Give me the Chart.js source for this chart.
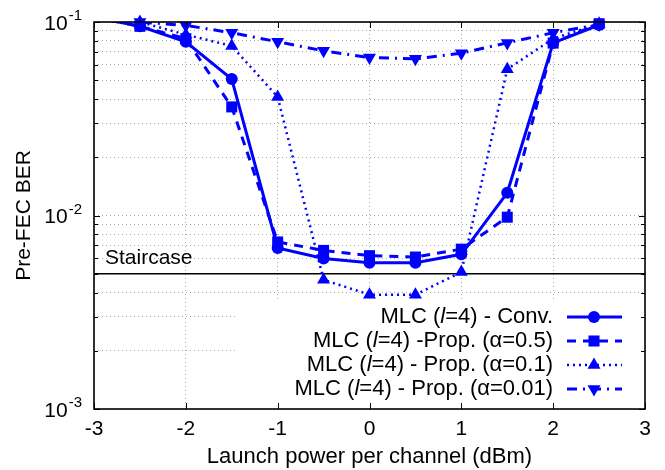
<!DOCTYPE html>
<html>
<head>
<meta charset="utf-8">
<script src="https://cdn.jsdelivr.net/npm/chart.js@4.4.1/dist/chart.umd.min.js"></script>
<style>
  html, body { margin: 0; padding: 0; background: #fff; }
</style>
</head>
<body>
<canvas id="mycanvas" width="665" height="470"></canvas>
<script>
// launch power per channel (dBm)
var launchPower = [-3, -2.5, -2, -1.5, -1, -0.5, 0, 0.5, 1, 1.5, 2, 2.5];

// pre-FEC BER per series
var berConv   = [0.106, 0.095, 0.079, 0.0507, 0.0068, 0.0060, 0.0057, 0.0057, 0.0063, 0.0131, 0.078, 0.0965];
var berProp05 = [0.106, 0.095, 0.082, 0.0364, 0.0073, 0.0066, 0.0062, 0.0061, 0.0067, 0.0098, 0.0778, 0.098];
var berProp01 = [0.105, 0.100, 0.086, 0.0752, 0.0410, 0.00465, 0.0039, 0.0039, 0.0051, 0.057, 0.082, 0.098];
var berProp001 = [0.103, 0.100, 0.096, 0.088, 0.079, 0.071, 0.0655, 0.0645, 0.069, 0.078, 0.088, 0.097];

var staircaseBer = 0.005;

var legendLabels = ['MLC (l=4) - Conv.', 'MLC (l=4) -Prop. (\u03b1=0.5)', 'MLC (l=4) - Prop. (\u03b1=0.1)', 'MLC (l=4) - Prop. (\u03b1=0.01)'];

var xTicks = [-3, -2, -1, 0, 1, 2, 3];
var yLabelTicks = [0.001, 0.01, 0.1];
var yGridTicks = [0.001, 0.002, 0.003, 0.004, 0.005, 0.006, 0.007, 0.008, 0.009,
                  0.01, 0.02, 0.03, 0.04, 0.05, 0.06, 0.07, 0.08, 0.09, 0.1];

var yMin = 0.001, yMax = 0.1;
var blue = '#0000ff';
var FONT = "'Liberation Sans', Arial, sans-serif";

Chart.defaults.font.family = FONT;
Chart.defaults.color = '#000';

function toXY(vals)
{
    var out = [];
    for (var i = 0; i < launchPower.length; i++) {
        out.push({ x: launchPower[i], y: vals[i] });
    }
    return out;
}

// series styles: line dash, width, marker
var seriesStyles = [
    { data: berConv,    dash: [],            width: 3,   marker: 'circle',   rot: 0,   r: 6 },
    { data: berProp05,  dash: [9, 7],        width: 3,   marker: 'rect',     rot: 0,   r: 7.8 },
    { data: berProp01,  dash: [2, 4],        width: 2.5, marker: 'triangle', rot: 0,   r: 7.5 },
    { data: berProp001, dash: [10, 6, 2, 6], width: 3,   marker: 'triangle', rot: 180, r: 7.5 }
];

var datasets = [];
seriesStyles.forEach(function (s) {
    // line part, clipped to the plot box
    datasets.push({
        data: toXY(s.data),
        borderColor: blue,
        borderWidth: s.width,
        borderDash: s.dash,
        borderCapStyle: 'butt',
        pointRadius: 0,
        fill: false,
        tension: 0,
        clip: 0
    });
});
seriesStyles.forEach(function (s) {
    // markers, not clipped (like gnuplot)
    datasets.push({
        data: toXY(s.data),
        showLine: false,
        pointStyle: s.marker,
        pointRotation: s.rot,
        pointRadius: function (c) { return (c.raw && c.raw.y > yMax) ? 0 : s.r; },
        pointBackgroundColor: blue,
        pointBorderWidth: 0,
        clip: false
    });
});
datasets.push({
    data: [{ x: -3, y: staircaseBer }, { x: 3, y: staircaseBer }],
    borderColor: '#000',
    borderWidth: 1.5,
    pointRadius: 0,
    fill: false,
    clip: 0
});

function drawMarker(ctx, style, rot, r, x, y)
{
    ctx.save();
    ctx.fillStyle = blue;
    ctx.beginPath();
    if (style === 'circle') {
        ctx.arc(x, y, r, 0, Math.PI * 2);
    } else if (style === 'rect') {
        var h = r * Math.SQRT1_2;
        ctx.rect(x - h, y - h, 2 * h, 2 * h);
    } else {
        var a = rot * Math.PI / 180;
        for (var k = 0; k < 3; k++) {
            var px = x + Math.sin(a) * r, py = y - Math.cos(a) * r;
            if (k === 0) ctx.moveTo(px, py); else ctx.lineTo(px, py);
            a += 2 * Math.PI / 3;
        }
        ctx.closePath();
    }
    ctx.fill();
    ctx.restore();
}

function drawLegendText(ctx, label, right, y)
{
    var cut = label.indexOf('(l') + 1;
    var parts = [
        { t: label.substring(0, cut), f: '22px ' + FONT },
        { t: 'l', f: 'italic 22px ' + FONT },
        { t: label.substring(cut + 1), f: '22px ' + FONT }
    ];
    var total = 0;
    parts.forEach(function (p) { ctx.font = p.f; p.w = ctx.measureText(p.t).width; total += p.w; });
    var x = right - total;
    ctx.textAlign = 'left';
    ctx.textBaseline = 'middle';
    parts.forEach(function (p) { ctx.font = p.f; ctx.fillText(p.t, x, y); x += p.w; });
}

var decor = {
    id: 'decor',
    beforeDatasetsDraw: function (chart)
    {
        var a = chart.chartArea, ctx = chart.ctx;
        ctx.save();
        ctx.fillStyle = '#fff';
        ctx.fillRect(238, 300, a.right - 238, a.bottom - 300);
        ctx.restore();
    },
    afterDatasetsDraw: function (chart)
    {
        var a = chart.chartArea, ctx = chart.ctx;
        var xs = chart.scales.x, ys = chart.scales.y;
        ctx.save();

        // frame
        ctx.strokeStyle = '#000';
        ctx.lineWidth = 1.6;
        ctx.setLineDash([]);
        ctx.strokeRect(a.left, a.top, a.right - a.left, a.bottom - a.top);

        // inward ticks
        ctx.lineWidth = 1;
        ctx.beginPath();
        xTicks.forEach(function (v) {
            var px = Math.round(xs.getPixelForValue(v)) + 0.5;
            ctx.moveTo(px, a.bottom); ctx.lineTo(px, a.bottom - 6);
            ctx.moveTo(px, a.top); ctx.lineTo(px, a.top + 6);
        });
        yGridTicks.forEach(function (v) {
            var py = Math.round(ys.getPixelForValue(v)) + 0.5;
            var len = yLabelTicks.indexOf(v) >= 0 ? 6 : 4;
            ctx.moveTo(a.left, py); ctx.lineTo(a.left + len, py);
            ctx.moveTo(a.right, py); ctx.lineTo(a.right - len, py);
        });
        ctx.stroke();

        // y tick labels 10^n
        ctx.fillStyle = '#000';
        yLabelTicks.forEach(function (v) {
            var py = ys.getPixelForValue(v);
            var exp = String(Math.round(Math.log10(v)));
            ctx.font = '15px ' + FONT;
            var ew = ctx.measureText(exp).width;
            ctx.textAlign = 'left';
            ctx.textBaseline = 'alphabetic';
            ctx.fillText(exp, 82 - ew, py - 2);
            ctx.font = '21px ' + FONT;
            ctx.textAlign = 'right';
            ctx.textBaseline = 'middle';
            ctx.fillText('10', 82 - ew - 1, py + 2);
        });

        // staircase label
        ctx.font = '21px ' + FONT;
        ctx.textAlign = 'left';
        ctx.textBaseline = 'middle';
        ctx.fillText('Staircase', a.left + 11, ys.getPixelForValue(staircaseBer) - 16);

        // legend
        var rows = [317, 341, 365, 389];
        seriesStyles.forEach(function (s, i) {
            var y = rows[i];
            drawLegendText(ctx, legendLabels[i], 553, y);
            ctx.strokeStyle = blue;
            ctx.lineWidth = s.width;
            ctx.setLineDash(s.dash);
            ctx.lineCap = 'butt';
            ctx.beginPath();
            ctx.moveTo(567, y);
            ctx.lineTo(622, y);
            ctx.stroke();
            ctx.setLineDash([]);
            drawMarker(ctx, s.marker, s.rot, s.r, 594, y);
        });

        ctx.restore();
    }
};

var myGraph = new Chart(document.getElementById('mycanvas'), {
    type: 'line',
    data: { datasets: datasets },
    plugins: [decor],
    options: {
        responsive: false,
        animation: false,
        events: [],
        layout: { padding: { top: 22, right: 20, left: 0, bottom: 0 } },
        plugins: { legend: { display: false }, tooltip: { enabled: false } },
        scales: {
            x: {
                type: 'linear',
                min: -3,
                max: 3,
                afterBuildTicks: function (s) { s.ticks = xTicks.map(function (v) { return { value: v }; }); },
                afterFit: function (s) { s.height = 61; },
                ticks: { font: { size: 21 }, color: '#000', padding: 8, maxRotation: 0 },
                grid: { color: '#a8a8a8', lineWidth: 1, drawTicks: false },
                border: { display: false, dash: [1, 3] },
                title: { display: true, text: 'Launch power per channel (dBm)', font: { size: 22 }, color: '#000', padding: { top: 0, bottom: 0 } }
            },
            y: {
                type: 'logarithmic',
                min: yMin,
                max: yMax,
                afterBuildTicks: function (s) { s.ticks = yGridTicks.map(function (v) { return { value: v }; }); },
                afterFit: function (s) { s.width = 94; },
                ticks: { display: false },
                grid: { color: '#a8a8a8', lineWidth: 1, drawTicks: false },
                border: { display: false, dash: [1, 3] },
                title: { display: true, text: 'Pre-FEC BER', font: { size: 21 }, color: '#000', padding: { top: 12, bottom: 0 } }
            }
        }
    }
});
</script>
</body>
</html>
